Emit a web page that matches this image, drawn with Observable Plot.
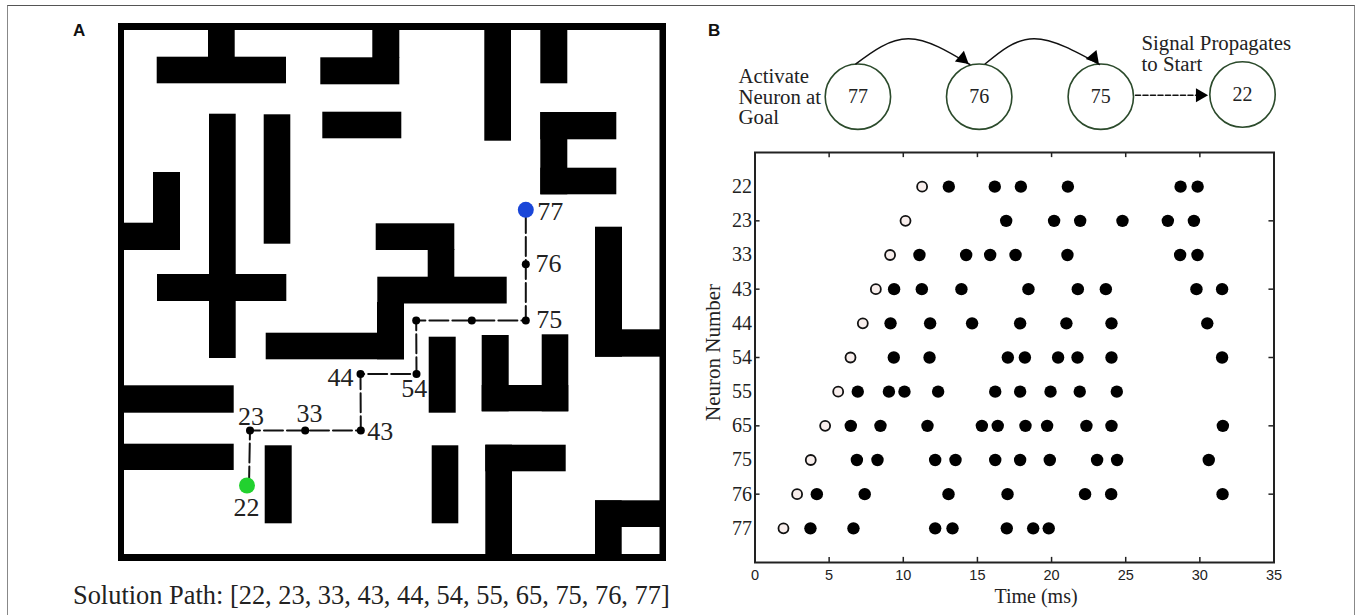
<!DOCTYPE html>
<html>
<head>
<meta charset="utf-8">
<script src="https://cdn.jsdelivr.net/npm/d3@7"></script>
<script src="https://cdn.jsdelivr.net/npm/@observablehq/plot@0.6"></script>
<style>
  html, body { margin: 0; padding: 0; background: #fff; }
  #page { position: relative; width: 1360px; height: 615px; overflow: hidden; }
  #page > svg { position: absolute; background: transparent; overflow: visible; }
  .rule { position: absolute; left: 7px; top: 5px; width: 1348px; height: 620px; border: 1.5px solid #888; border-top-color: #555; box-sizing: border-box; }
  .letter { position: absolute; font: bold 17px "Liberation Sans", sans-serif; color: #111; line-height: 20px; }
  .caption { position: absolute; left: 73px; top: 579px; font: 26.4px/32px "Liberation Serif", serif; color: #222; white-space: nowrap; }
</style>
</head>
<body>
<div id="page">
  <div class="rule"></div>
  <div class="letter" style="left:73px;top:21px">A</div>
  <div class="letter" style="left:708px;top:21px">B</div>
  <div class="caption">Solution Path: [22, 23, 33, 43, 44, 54, 55, 65, 75, 76, 77]</div>
</div>
<script>
// ---------- Panel A: maze, in maze units [x1, x2, y1, y2]
const mazeWidth = 548;
const mazeHeight = 538;
const walls = [
  [0,548,0,7],[0,548,531,538],[0,6,0,538],[541.5,548,0,538],
  [90,116.7,0,35],[38.7,168,33.7,60.3],
  [202.3,281.3,34.3,61.3],[254.3,281.3,0,35],
  [204.3,283.3,88.7,115.3],
  [91,117.7,90.7,335],[39,168.3,251,278],
  [145.7,172.3,91.3,220.7],
  [35,62,149,227],[0,62,199.7,227],
  [257.7,336.3,200.3,227],[309.7,336.3,226,255],[259.3,388.7,253.7,280.5],[259,286,279,336.3],[147.7,286,309.7,336.3],
  [366.3,393,0,117.7],
  [422.3,449.3,0,60.3],
  [422.3,449.3,89,171.3],[422.3,498.3,89,116.3],[422.3,498.3,144.7,171.3],
  [477,504,203.7,333.7],[477,548,306.3,333.7],
  [310.7,337.7,313.7,389.7],
  [363.7,390.7,312,388.3],[423.7,450.3,311.3,388.3],[363.7,450.3,362,388.3],
  [0,115.7,362.3,389.7],
  [0,115.7,420.7,447],
  [146.7,173.7,422.3,500.3],
  [313.7,340.3,422.3,500.3],
  [367.3,394,421.7,538],[367.3,447.7,421.7,448.3],
  [477,503.7,477.3,538],[477,548,477.3,504]
];
const pathIds = [22,23,33,43,44,54,55,65,75,76,77];
const pathX = [130.5,131.5,186.7,242.3,242,298,297.7,353.3,407.3,407.3,407.3];
const pathY = [462,407,407,407,350.5,350.5,297,297,297,240.7,186.3];
const mazeLabels = ["77","76","75","54","44","43","33","23","22"];
const mazeLabelX = [431.7,430,430.7,295.7,222,261.7,191,132.5,128];
const mazeLabelY = [188,240,296,365,354,408,390,392.7,483.7];

// ---------- Panel B top: propagation diagram
const nodeIds = ["77","76","75","22"];
const nodeX = [157.4,278.7,400.3,542];
const nodeY = [96.2,96.2,96.2,94];
const arcOne = [[155.4,63.3],[208,38.3],[269.3,64]];
const arcTwo = [[284.8,63.3],[333.8,38.3],[399,64]];
const dashedArrow = [[435,94.7],[500,94.7]];
const arrowHeads = [[262,58.2,130],[393.2,57.1,140],[499.5,94.7,90]];
const goalNote = "Activate\nNeuron at\nGoal";
const startNote = "Signal Propagates\nto Start";

// ---------- Panel B bottom: spike raster
const neurons = ["22","23","33","43","44","54","55","65","75","76","77"];
const firstSpike = [11.27,10.15,9.11,8.15,7.27,6.44,5.61,4.73,3.76,2.84,1.92];
const spikes22 = [13.07,16.17,17.93,21.1,28.7,29.85];
const spikes23 = [16.94,20.17,21.93,24.78,27.84,29.6];
const spikes33 = [11.09,14.24,15.86,17.57,21.07,28.67,29.84];
const spikes43 = [9.38,11.25,13.92,18.44,21.77,23.66,29.77,31.5];
const spikes44 = [9.14,11.81,14.64,17.88,21.0,24.04,30.5];
const spikes54 = [9.36,11.77,17.05,18.2,20.44,21.75,24.04,31.5];
const spikes55 = [6.93,9.03,10.08,12.35,16.2,17.88,19.93,21.9,24.4];
const spikes65 = [6.46,8.46,11.63,15.3,16.37,18.24,19.7,22.35,24.04,31.55];
const spikes75 = [6.87,8.26,12.15,13.52,16.2,17.88,19.88,23.07,24.42,30.6];
const spikes76 = [4.17,7.4,13.05,17.03,22.26,24.02,31.53];
const spikes77 = [3.74,6.64,12.15,13.32,16.98,18.76,19.81];
const timeTicks = [0,5,10,15,20,25,30,35];
const markedRows = [1,3,5,7,9];

const allSpikes = [spikes22,spikes23,spikes33,spikes43,spikes44,spikes54,spikes55,spikes65,spikes75,spikes76,spikes77];
const spikeRows = allSpikes.flatMap((s, row) => s.map(t => ({t, row})));
const firstRows = firstSpike.map((t, row) => ({t, row}));
const wallRows = walls.map(([x1,x2,y1,y2]) => ({x1,x2,y1,y2}));
const pathRows = pathIds.map((id,i) => ({id, x:pathX[i], y:pathY[i]}));
const mazeLabelRows = mazeLabels.map((text,i) => ({text, x:mazeLabelX[i], y:mazeLabelY[i]}));
const nodeRows = nodeIds.map((id,i) => ({id, x:nodeX[i], y:nodeY[i]}));

const serif = '"Liberation Serif", serif';
const sans = '"Liberation Sans", sans-serif';
const page = document.getElementById("page");

function place(svg, left, top) {
  svg.style.left = left + "px";
  svg.style.top = top + "px";
  page.appendChild(svg);
}

// Maze
place(Plot.plot({
  width: mazeWidth, height: mazeHeight,
  margin: 0,
  x: {domain: [0, mazeWidth], range: [0, mazeWidth], axis: null},
  y: {domain: [0, mazeHeight], range: [0, mazeHeight], axis: null},
  style: {fontFamily: serif},
  marks: [
    Plot.rect(wallRows, {x1:"x1", x2:"x2", y1:"y1", y2:"y2", fill:"#000"}),
    Plot.line(pathRows, {x:"x", y:"y", stroke:"#111", strokeWidth:2, strokeDasharray:"19,4"}),
    Plot.dot(pathRows.filter(d => d.id !== 22 && d.id !== 77), {x:"x", y:"y", r:4, fill:"#000"}),
    Plot.dot(pathRows.filter(d => d.id === 22), {x:d=>d.x-2, y:"y", r:8, fill:"#22d12f"}),
    Plot.dot(pathRows.filter(d => d.id === 77), {x:"x", y:"y", r:8, fill:"#1a46d8"}),
    Plot.text(mazeLabelRows, {x:"x", y:"y", text:"text", fontSize:26, fill:"#222", fontFamily:serif})
  ]
}), 118, 23);

// Diagram
place(Plot.plot({
  width: 620, height: 150,
  margin: 0,
  x: {domain: [0, 620], range: [0, 620], axis: null},
  y: {domain: [0, 150], range: [0, 150], axis: null},
  style: {fontFamily: serif},
  marks: [
    Plot.dot(nodeRows, {x:"x", y:"y", r:32.7, stroke:"#2b4a2b", strokeWidth:1.6, fill:"none"}),
    Plot.text(nodeRows, {x:"x", y:"y", text:"id", fontSize:20, fill:"#222"}),
    Plot.line(arcOne, {curve:"natural", stroke:"#111", strokeWidth:1.5}),
    Plot.line(arcTwo, {curve:"natural", stroke:"#111", strokeWidth:1.5}),
    Plot.line(dashedArrow, {stroke:"#111", strokeWidth:1.6, strokeDasharray:"5,2.5"}),
    Plot.dot(arrowHeads, {x:d=>d[0], y:d=>d[1], rotate:d=>d[2], r:5.2, symbol:"triangle", fill:"#000"}),
    Plot.text([goalNote], {x:()=>38, y:()=>96.5, text:d=>d, textAnchor:"start", lineHeight:1, fontSize:20.8, fill:"#222"}),
    Plot.text([startNote], {x:()=>441, y:()=>53, text:d=>d, textAnchor:"start", lineHeight:1, fontSize:20.8, fill:"#222"})
  ]
}), 700, 0);

// Raster
place(Plot.plot({
  width: 1360, height: 615,
  marginLeft: 754.5, marginRight: 86.5, marginTop: 152, marginBottom: 53,
  x: {domain: [0, 35]},
  y: {domain: [-1, 11], reverse: true},
  style: {fontFamily: serif, color: "#222"},
  marks: [
    Plot.frame({stroke:"#222", strokeWidth:2}),
    Plot.axisX({ticks: timeTicks, tickSize: 0, tickPadding: 7, fontSize: 14.5, fontFamily: sans, label: null}),
    Plot.axisY({ticks: d3.range(neurons.length), tickFormat: i => neurons[i], tickSize: 0, tickPadding: 3, fontSize: 20, label: null}),
    Plot.ruleX(timeTicks.slice(1,-1), {x:d=>d, y1:-1, y2:-0.85, stroke:"#222", strokeWidth:1.5}),
    Plot.ruleX(timeTicks.slice(1,-1), {x:d=>d, y1:11, y2:10.85, stroke:"#222", strokeWidth:1.5}),
    Plot.ruleY(markedRows, {y:d=>d, x1:0, x2:0.34, stroke:"#222", strokeWidth:1.5}),
    Plot.ruleY(markedRows, {y:d=>d, x1:35, x2:34.66, stroke:"#222", strokeWidth:1.5}),
    Plot.dot(spikeRows, {x:"t", y:"row", r:6.2, fill:"#000"}),
    Plot.dot(firstRows, {x:"t", y:"row", r:5, fill:"#f8eeec", stroke:"#111", strokeWidth:1.8}),
    Plot.text(["Time (ms)"], {frameAnchor:"bottom", lineAnchor:"middle", dx:21.5, dy:34, fontSize:20, fill:"#222"}),
    Plot.text(["Neuron Number"], {frameAnchor:"left", textAnchor:"middle", lineAnchor:"middle", rotate:-90, dx:-42, dy:-5, fontSize:21, fill:"#222"})
  ]
}), 0, 0);
</script>
</body>
</html>
